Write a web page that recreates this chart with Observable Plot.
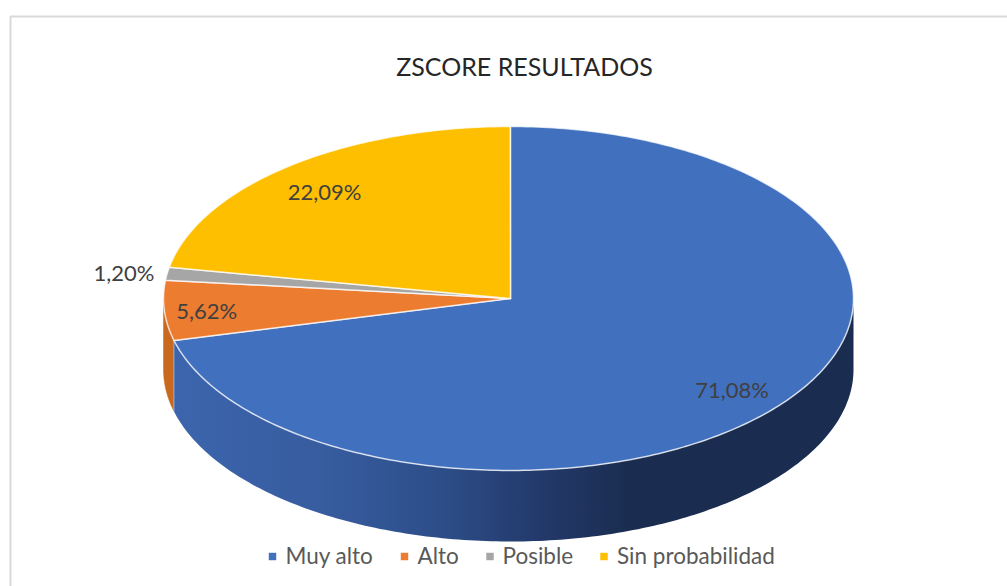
<!DOCTYPE html>
<html>
<head>
<meta charset="utf-8">
<style>html,body{margin:0;padding:0;background:#fff}svg{display:block}</style>
<script src="https://cdn.jsdelivr.net/npm/d3@7"></script>
<script src="https://cdn.jsdelivr.net/npm/@observablehq/plot@0.6"></script>
</head>
<body>
<script>
const categories = ["Muy alto", "Alto", "Posible", "Sin probabilidad"];
const shares = [71.08, 5.62, 1.20, 22.09];
const shareLabels = ["71,08%", "5,62%", "1,20%", "22,09%"];
const colors = ["#4170bf", "#ec7c30", "#a6a6a6", "#fdbf00"];
const chartTitle = "ZSCORE RESULTADOS";

const W = 1007, H = 586;
const cx = 510, cy = 298, rx = 343, ry = 172, depthPx = 71;
const leftStretch = 347 / 343;
const depth = depthPx / ry;

// Unit ellipse: angle measured clockwise from top, in share units (0..100)
const total = 100;
const px = s => { const v = Math.sin(s / total * 2 * Math.PI); return v < 0 ? v * leftStretch : v; };
const py = s => Math.cos(s / total * 2 * Math.PI);
function arc(a, b, dy = 0) {
  const pts = [], n = Math.max(2, Math.ceil((b - a) * 4));
  for (let i = 0; i <= n; i++) { const s = a + (b - a) * i / n; pts.push({x: px(s), y: py(s) - dy}); }
  return pts;
}
let acc = 0;
const sliceRows = categories.map((c, i) => {
  const a = acc, b = acc + shares[i]; acc = b;
  return {c, i, a, b};
});
const topFace = sliceRows.flatMap(r => [{x: 0, y: 0}, ...arc(r.a, r.b), {x: 0, y: 0}].map(p => ({...p, c: r.c})));

// Side wall: only the front half of the rim (25..75 in share units)
function wall(a, b) {
  return [...arc(a, b), ...arc(a, b, depth).reverse()];
}
const blueEnd = shares[0], orangeEnd = shares[0] + shares[1];
const blueWall = wall(total / 4, blueEnd);
const orangeWall = wall(blueEnd, Math.min(orangeEnd, total * 0.75));
const seam = [{x: px(blueEnd), y: py(blueEnd)}, {x: px(blueEnd), y: py(blueEnd) - depth}];

const labelPos = [[0.646, -0.535], [-0.886, -0.0756], [-1.127, 0.145], [-0.542, 0.616]];
const labelRows = shareLabels.map((t, i) => ({t, x: labelPos[i][0], y: labelPos[i][1]}));

const X = v => (v - cx) / rx, Y = v => (cy - v) / ry;

const legendY = Y(556);
const legendRows = categories.map((c, i) => ({
  c,
  sx: X([272, 404, 489.5, 603.5][i]),
  tx: X([285, 417, 502, 616.5][i])
}));

const defs = () => {
  const svgNS = "http://www.w3.org/2000/svg";
  const d = document.createElementNS(svgNS, "defs");
  const g = document.createElementNS(svgNS, "linearGradient");
  g.setAttribute("id", "bluewall");
  g.setAttribute("gradientUnits", "userSpaceOnUse");
  g.setAttribute("x1", 173); g.setAttribute("x2", 853);
  g.setAttribute("y1", 0); g.setAttribute("y2", 0);
  [[0, "#3c65ad"], [0.22, "#375c9f"], [0.4, "#2c4d87"], [0.54, "#23396a"], [0.67, "#1a2d50"], [1, "#1a2d50"]].forEach(([o, col]) => {
    const s = document.createElementNS(svgNS, "stop");
    s.setAttribute("offset", o); s.setAttribute("stop-color", col); g.appendChild(s);
  });
  d.appendChild(g);
  return d;
};

const plot = Plot.plot({
  width: W, height: H,
  margin: 0,
  style: {background: "#fff", fontFamily: "Lato, 'Open Sans', sans-serif"},
  x: {domain: [X(0), X(W)], range: [0, W], axis: null},
  y: {domain: [Y(0), Y(H)], range: [0, H], axis: null},
  color: {domain: categories, range: colors},
  marks: [
    defs,
    // chart frame
    Plot.line([{x: X(10), y: Y(H)}, {x: X(10), y: Y(16)}, {x: X(W), y: Y(16)}],
      {x: "x", y: "y", stroke: "#d9d9d9", strokeWidth: 2}),
    // side walls
    Plot.line(orangeWall, {x: "x", y: "y", fill: "#c9691f", stroke: "#c9691f", strokeWidth: 0.5}),
    Plot.line(blueWall, {x: "x", y: "y", fill: "url(#bluewall)", stroke: "none"}),
    Plot.line(seam, {x: "x", y: "y", stroke: "#fff", strokeOpacity: 0.4, strokeWidth: 1}),
    // top face
    Plot.line(topFace, {x: "x", y: "y", z: "c", fill: "c", stroke: "#fff", strokeOpacity: 0.75, strokeWidth: 1.5, strokeLinejoin: "round"}),
    // value labels
    Plot.text(labelRows, {x: "x", y: "y", text: "t", fill: "#404040", fontSize: 22}),
    // title
    Plot.text([chartTitle], {x: () => X(524), y: () => Y(67), text: d => d, fill: "#262626", fontSize: 25}),
    // legend
    Plot.dot(legendRows, {x: "sx", y: () => legendY, symbol: "square", r: 4.2, fill: "c"}),
    Plot.text(legendRows, {x: "tx", y: () => legendY, text: "c", textAnchor: "start", fill: "#595959", fontSize: 22.5})
  ]
});
document.body.appendChild(plot);
</script>
</body>
</html>
